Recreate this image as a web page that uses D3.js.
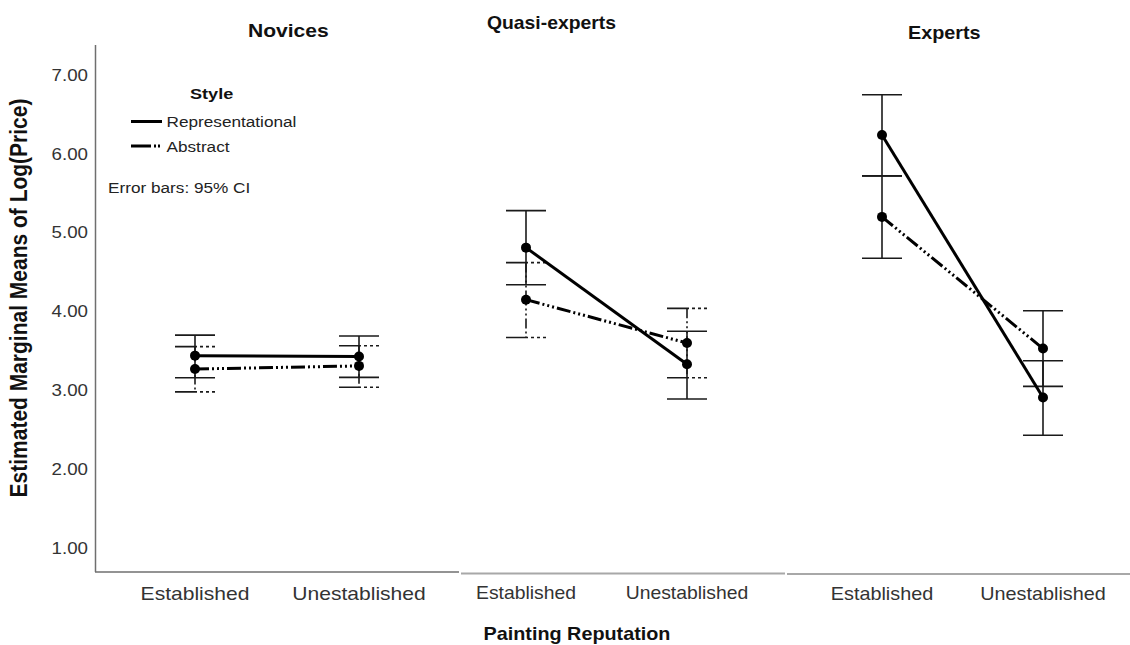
<!DOCTYPE html>
<html>
<head>
<meta charset="utf-8">
<script src="https://cdn.jsdelivr.net/npm/d3@7"></script>
<style>
  html, body { margin: 0; padding: 0; background: #fff; }
  svg { display: block; font-family: "Liberation Sans", Arial, sans-serif; }
</style>
</head>
<body>
<svg id="chart" width="1130" height="645"></svg>
<script>
// Estimated marginal means of log(price) by expertise group, reputation and style
const groups = ["Novices", "Quasi-experts", "Experts"];
const reputation = ["Established", "Unestablished"];
const styles = ["Representational", "Abstract"];
const yTicks = [1, 2, 3, 4, 5, 6, 7];

// [group][reputation]
const repMean = [[3.44, 3.43], [4.81, 3.33], [6.24, 2.91]];
const repLow  = [[3.16, 3.165], [4.34, 2.89], [5.72, 2.43]];
const repHigh = [[3.70, 3.69], [5.28, 3.75], [6.75, 3.375]];
const absMean = [[3.27, 3.31], [4.15, 3.60], [5.20, 3.53]];
const absLow  = [[2.98, 3.04], [3.67, 3.16], [4.675, 3.05]];
const absHigh = [[3.555, 3.565], [4.62, 4.04], [5.72, 4.01]];

const svg = d3.select("#chart");
const y = d3.scaleLinear().domain([1, 7]).range([548, 75]);

// panel layout
const panels = [
  { x0: 95,  x1: 459,  pts: [195, 359],  axisY: 572,   axisColor: "#6f6f6f", axisW: 1.5, sx: 1.17, dashedErr: true,
    titleX: 248, titleY: 36.5, labelY: 599.5 },
  { x0: 461, x1: 785,  pts: [526, 687],  axisY: 573.5, axisColor: "#a8a8a8", axisW: 2, sx: 1.075, dashedErr: true,
    titleX: 487, titleY: 28.5, labelY: 598.5 },
  { x0: 787, x1: 1130, pts: [882, 1043], axisY: 574,   axisColor: "#a8a8a8", axisW: 2, sx: 1.1, dashedErr: false,
    titleX: 908, titleY: 38.5, labelY: 599.5 }
];

const lineDash = { Representational: null, Abstract: "14,3,2,3,2,3,2,3" };
const errDashV = "10,3,2,3,2,3,2,3";
const errDashCap = "22,3,3,3,3,3,3";
const capHalf = 20;

function txt(g, x, yy, s, opts) {
  const t = g.append("text")
    .attr("transform", `translate(${x},${yy}) scale(${opts.sx || 1},1)`)
    .attr("font-size", opts.size)
    .attr("font-weight", opts.weight || "normal")
    .attr("fill", opts.fill || "#222")
    .attr("text-anchor", opts.anchor || "start")
    .text(s);
  if (opts.dy) t.attr("dy", opts.dy);
  return t;
}

// y axis
svg.append("line")
  .attr("x1", 95.5).attr("x2", 95.5)
  .attr("y1", 45).attr("y2", 572)
  .attr("stroke", "#6f6f6f").attr("stroke-width", 1.5);

yTicks.forEach(v => {
  txt(svg, 88, y(v), d3.format(".2f")(v), { size: 16, sx: 1.17, anchor: "end", fill: "#333", dy: "0.36em" });
});

// y axis title
svg.append("text")
  .attr("transform", "translate(27,298) scale(1.17,1) rotate(-90)")
  .attr("font-size", 21).attr("font-weight", "bold").attr("fill", "#111")
  .attr("text-anchor", "middle")
  .text("Estimated Marginal Means of Log(Price)");

panels.forEach((p, gi) => {
  const g = svg.append("g");
  const x = d3.scalePoint().domain(reputation).range(p.pts);

  // x axis baseline
  g.append("line")
    .attr("x1", p.x0).attr("x2", p.x1)
    .attr("y1", p.axisY).attr("y2", p.axisY)
    .attr("stroke", p.axisColor).attr("stroke-width", p.axisW);

  // category labels
  reputation.forEach(r => {
    txt(g, x(r), p.labelY, r, { size: 18, sx: p.sx, anchor: "middle", fill: "#333" });
  });

  // panel title
  txt(g, p.titleX, p.titleY, groups[gi], { size: 18, sx: p.sx, weight: "bold", fill: "#111" });

  const series = [
    { name: "Representational", mean: repMean[gi], lo: repLow[gi], hi: repHigh[gi] },
    { name: "Abstract", mean: absMean[gi], lo: absLow[gi], hi: absHigh[gi] }
  ];

  // error bars (abstract first so solid bars sit on top)
  series.slice().reverse().forEach(s => {
    const dashed = s.name === "Abstract" && p.dashedErr;
    reputation.forEach((r, i) => {
      const cx = x(r);
      g.append("line")
        .attr("x1", cx).attr("x2", cx)
        .attr("y1", y(s.hi[i])).attr("y2", y(s.lo[i]))
        .attr("stroke", "#1a1a1a").attr("stroke-width", 1.6)
        .attr("stroke-dasharray", dashed ? errDashV : null);
      [s.hi[i], s.lo[i]].forEach(v => {
        g.append("line")
          .attr("x1", cx - capHalf).attr("x2", cx + capHalf)
          .attr("y1", y(v)).attr("y2", y(v))
          .attr("stroke", "#1a1a1a").attr("stroke-width", 1.6)
          .attr("stroke-dasharray", dashed ? errDashCap : null);
      });
    });
  });

  // mean lines and markers
  series.forEach(s => {
    const pts = reputation.map((r, i) => [x(r), y(s.mean[i])]);
    g.append("path")
      .attr("d", d3.line()(pts))
      .attr("fill", "none").attr("stroke", "#000").attr("stroke-width", 3)
      .attr("stroke-dasharray", lineDash[s.name]);
    g.selectAll(null).data(pts).enter().append("circle")
      .attr("cx", d => d[0]).attr("cy", d => d[1]).attr("r", 5)
      .attr("fill", "#000");
  });
});

// x axis title
txt(svg, 577, 639.5, "Painting Reputation", { size: 18, sx: 1.1, weight: "bold", anchor: "middle", fill: "#111" });

// legend
const lg = svg.append("g");
txt(lg, 190, 98.5, "Style", { size: 15.5, sx: 1.17, weight: "bold", fill: "#111" });
const legendRows = [121.5, 146];
styles.forEach((s, i) => {
  lg.append("line")
    .attr("x1", 131).attr("x2", 162)
    .attr("y1", legendRows[i]).attr("y2", legendRows[i])
    .attr("stroke", "#000").attr("stroke-width", 3)
    .attr("stroke-dasharray", s === "Abstract" ? "20,3,2,2,2,2" : null);
  txt(lg, 166.5, legendRows[i] + 5.5, s, { size: 14.7, sx: 1.17, fill: "#222" });
});
txt(lg, 108, 193, "Error bars: 95% CI", { size: 14.7, sx: 1.17, fill: "#222" });
</script>
</body>
</html>
